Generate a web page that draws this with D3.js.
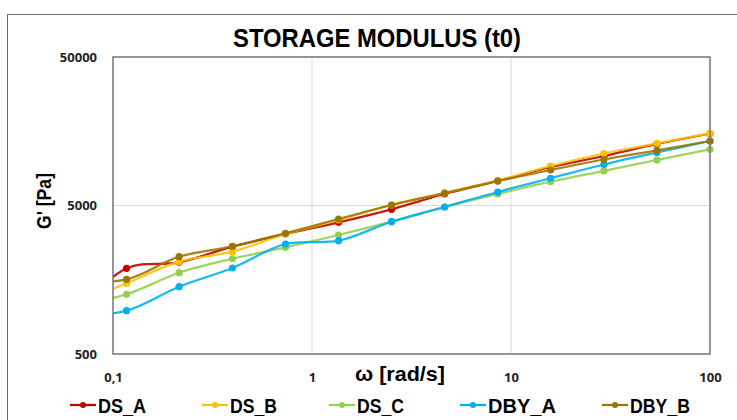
<!DOCTYPE html>
<html><head><meta charset="utf-8">
<script src="https://cdn.jsdelivr.net/npm/d3@7"></script>
<style>body{margin:0;background:#fff}svg{display:block}</style>
</head><body>
<svg id="c" width="737" height="420"></svg>
<script>
const omega = [0.0631, 0.117, 0.215, 0.398, 0.736, 1.36, 2.51, 4.64, 8.58, 15.8, 29.3, 54.1, 100];
const DS_A  = [900, 1889, 2073, 2640, 3214, 3853, 4714, 5977, 7311, 9084, 10772, 12975, 15266];
const DS_B  = [1069, 1496, 2092, 2443, 3214, 3993, 5039, 6071, 7372, 9226, 11196, 13115, 15317];
const DS_C  = [1053, 1262, 1764, 2189, 2614, 3165, 3889, 4885, 5977, 7233, 8564, 10125, 11951];
const DBY_A = [902, 979, 1420, 1897, 2752, 2897, 3889, 4885, 6166, 7627, 9443, 11373, 13594];
const DBY_B = [1527, 1592, 2261, 2656, 3250, 4056, 5039, 6071, 7311, 8669, 10206, 11765, 13594];
const seriesNames = ["DS_A", "DS_B", "DS_C", "DBY_A", "DBY_B"];
const seriesValues = [DS_A, DS_B, DS_C, DBY_A, DBY_B];
const colors = ["#C00000", "#FFC000", "#92D050", "#00B0F0", "#9C7700"];
const xTicks = [0.1, 1, 10, 100];
const xTickLabels = ["0,1", "1", "10", "100"];
const yTicks = [500, 5000, 50000];
const yTickLabels = ["500", "5000", "50000"];

const svg = d3.select("#c");
const L = 113, R = 710, T = 57, B = 354;
const x = d3.scaleLog().domain([0.1, 100]).range([L, R]);
const y = d3.scaleLog().domain([500, 50000]).range([B, T]);

// outer chart border
svg.append("rect").attr("x", 7.5).attr("y", 14.5).attr("width", 740).attr("height", 420)
  .attr("fill", "none").attr("stroke", "#6b6b6b").attr("stroke-width", 1);

// title
svg.append("text").attr("x", 377).attr("y", 47).attr("text-anchor", "middle")
  .attr("font-family", "Liberation Sans, Arial, sans-serif").attr("font-weight", "bold")
  .attr("font-size", 26).attr("fill", "#000")
  .attr("textLength", 288).attr("lengthAdjust", "spacingAndGlyphs")
  .text("STORAGE MODULUS (t0)");

// gridlines
const grid = svg.append("g").attr("stroke", "#d9d9d9").attr("stroke-width", 1);
xTicks.forEach(t => grid.append("line").attr("x1", x(t)).attr("x2", x(t)).attr("y1", T).attr("y2", B));
yTicks.forEach(t => grid.append("line").attr("x1", L).attr("x2", R).attr("y1", y(t)).attr("y2", y(t)));

// axes (labels only)
const xAxis = d3.axisBottom(x).tickValues(xTicks).tickFormat((d, i) => xTickLabels[i]).tickSize(0).tickPadding(19);
const gx = svg.append("g").attr("transform", `translate(0,${B})`).call(xAxis);
gx.select(".domain").remove();
gx.selectAll("text").attr("font-family", "Open Sans, sans-serif").attr("font-weight", "bold")
  .attr("font-size", 13).attr("fill", "#222");

const yAxis = d3.axisLeft(y).tickValues(yTicks).tickFormat((d, i) => yTickLabels[i]).tickSize(0).tickPadding(16);
const gy = svg.append("g").attr("transform", `translate(${L},0)`).call(yAxis);
gy.select(".domain").remove();
gy.selectAll("text").attr("font-family", "Open Sans, sans-serif").attr("font-weight", "bold")
  .attr("font-size", 13).attr("fill", "#222");

// axis titles
svg.append("text").attr("x", 400).attr("y", 381).attr("text-anchor", "middle")
  .attr("font-family", "Liberation Sans, Arial, sans-serif").attr("font-weight", "bold")
  .attr("font-size", 21).attr("fill", "#000")
  .attr("textLength", 90).attr("lengthAdjust", "spacingAndGlyphs")
  .text("ω [rad/s]");
svg.append("text").attr("transform", "translate(51,201) rotate(-90)").attr("text-anchor", "middle")
  .attr("font-family", "Liberation Sans, Arial, sans-serif").attr("font-weight", "bold")
  .attr("font-size", 20).attr("fill", "#000")
  .attr("textLength", 56).attr("lengthAdjust", "spacingAndGlyphs")
  .text("G' [Pa]");

// clip
svg.append("clipPath").attr("id", "plotclip").append("rect")
  .attr("x", L).attr("y", T).attr("width", R - L + 6).attr("height", B - T);

const line = d3.line().x(d => x(d[0])).y(d => y(d[1])).curve(d3.curveCatmullRom.alpha(0.5));
const plot = svg.append("g").attr("clip-path", "url(#plotclip)");
seriesValues.forEach((vals, si) => {
  const pts = omega.map((w, i) => [w, vals[i]]);
  plot.append("path").datum(pts).attr("d", line).attr("fill", "none")
    .attr("stroke", colors[si]).attr("stroke-width", 2.25).attr("stroke-opacity", 0.9);
  plot.selectAll(null).data(pts.filter(p => p[0] >= 0.1)).enter().append("circle")
    .attr("cx", d => x(d[0])).attr("cy", d => y(d[1])).attr("r", 3.6).attr("fill", colors[si]);
});

// plot frame
svg.append("rect").attr("x", L).attr("y", T).attr("width", R - L).attr("height", B - T)
  .attr("fill", "none").attr("stroke", "#7a7a7a").attr("stroke-width", 1.5);

// legend
const legX = [70, 202, 329, 460, 602];
const legW = [48, 47, 47, 68, 60];
const leg = svg.append("g");
seriesNames.forEach((n, i) => {
  const g = leg.append("g").attr("transform", `translate(${legX[i]},405)`);
  g.append("line").attr("x1", 0).attr("x2", 26).attr("y1", 0).attr("y2", 0)
    .attr("stroke", colors[i]).attr("stroke-width", 2.25);
  g.append("circle").attr("cx", 13).attr("cy", 0).attr("r", 3).attr("fill", colors[i]);
  g.append("text").attr("x", 28).attr("y", 7.5)
    .attr("font-family", "Liberation Sans, Arial, sans-serif").attr("font-weight", "bold")
    .attr("font-size", 20).attr("fill", "#000")
    .attr("textLength", legW[i]).attr("lengthAdjust", "spacingAndGlyphs").text(n);
});
</script>
</body></html>
